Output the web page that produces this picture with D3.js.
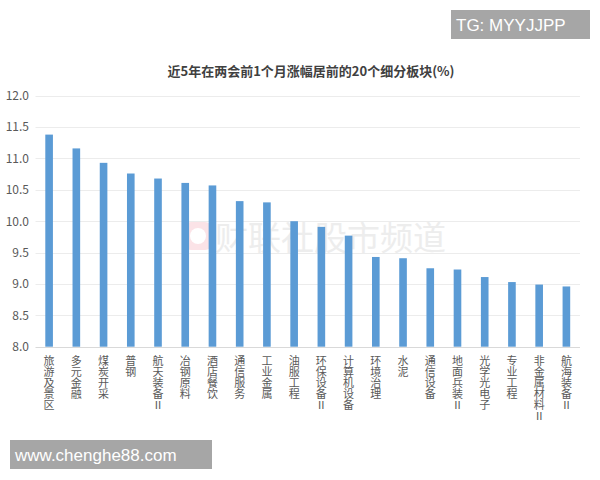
<!DOCTYPE html>
<html><head><meta charset="utf-8">
<script src="https://cdn.jsdelivr.net/npm/d3@7"></script>
<style>body{margin:0;background:#fff;}svg{display:block;}</style>
</head><body>
<svg id="chart" width="600" height="480"></svg>
<script>
const categories = ["旅游及景区","多元金融","煤炭开采","普钢","航天装备Ⅱ","冶钢原料","酒店餐饮","通信服务","工业金属","油服工程","环保设备Ⅱ","计算机设备","环境治理","水泥","通信设备","地面兵装Ⅱ","光学光电子","专业工程","非金属材料Ⅱ","航海装备Ⅱ"];
const values = [11.38,11.16,10.93,10.76,10.68,10.61,10.57,10.32,10.30,10.00,9.91,9.77,9.43,9.41,9.25,9.23,9.11,9.03,8.99,8.96];
const yTicks = [8.0,8.5,9.0,9.5,10.0,10.5,11.0,11.5,12.0];
const title = "近5年在两会前1个月涨幅居前的20个细分板块(%)";

(function () {
const svg = d3.select("#chart");
const font = "'Microsoft YaHei','Noto Sans CJK SC',sans-serif";
const mLeft = 35.5, mRight = 580, mTop = 95.7, mBottom = 346.7;

const x = d3.scaleBand().domain(categories).range([mLeft, mRight]).paddingInner(0.72).paddingOuter(0.36);
const y = d3.scaleLinear().domain([8, 12]).range([mBottom, mTop]);

// watermark
const wm = svg.append("g");
wm.append("rect").attr("x", 184).attr("y", 222).attr("width", 28).attr("height", 28).attr("rx", 7).attr("fill", "#fbe3e7");
wm.append("circle").attr("cx", 198).attr("cy", 236).attr("r", 8).attr("fill", "#fff");
wm.append("text").attr("x", 215).attr("y", 250).attr("font-family", font).attr("font-size", 33)
  .attr("fill", "#ededed").text("财联社股市频道");

// gridlines
svg.append("g").selectAll("line").data(yTicks).join("line")
  .attr("x1", mLeft).attr("x2", mRight)
  .attr("y1", d => Math.round(y(d)) + 0.5).attr("y2", d => Math.round(y(d)) + 0.5)
  .attr("stroke", d => d === 8 ? "#d9d9d9" : "#ececec").attr("stroke-width", 1);

// y axis labels
const yAxis = d3.axisLeft(y).tickValues(yTicks).tickFormat(d3.format(".1f")).tickSize(0).tickPadding(0);
const ya = svg.append("g").attr("transform", "translate(29,0)").call(yAxis);
ya.select(".domain").remove();
ya.selectAll("text").attr("font-family", font).attr("font-size", 12).attr("fill", "#595959");

// bars
svg.append("g").selectAll("rect").data(values).join("rect")
  .attr("x", (d, i) => x(categories[i]))
  .attr("width", x.bandwidth())
  .attr("y", d => y(d))
  .attr("height", d => y(8) - y(d))
  .attr("fill", "#5b9bd5");

// x labels vertical
svg.append("g").selectAll("text").data(categories).join("text")
  .attr("x", d => x(d) + x.bandwidth() / 2)
  .attr("y", 355)
  .attr("writing-mode", "vertical-rl")
  .style("text-orientation", "upright")
  .attr("font-family", font).attr("font-size", 11).attr("fill", "#595959")
  .text(d => d);

// title
svg.append("text").attr("x", 311).attr("y", 76).attr("text-anchor", "middle")
  .attr("font-family", font).attr("font-size", 13).attr("font-weight", "bold").attr("fill", "#404040").text(title);

// TG box
svg.append("rect").attr("x", 451).attr("y", 10).attr("width", 139).attr("height", 29).attr("fill", "#a6a6a6");
svg.append("text").attr("x", 456).attr("y", 31).attr("font-family", "'Liberation Sans',Arial,sans-serif")
  .attr("font-size", 17).attr("fill", "#fff").text("TG: MYYJJPP");

// URL box
svg.append("rect").attr("x", 10).attr("y", 440).attr("width", 202).attr("height", 29).attr("fill", "#a6a6a6");
svg.append("text").attr("x", 15).attr("y", 461).attr("font-family", "'Liberation Sans',Arial,sans-serif")
  .attr("font-size", 17).attr("fill", "#fff").text("www.chenghe88.com");
})();
</script>
</body></html>
